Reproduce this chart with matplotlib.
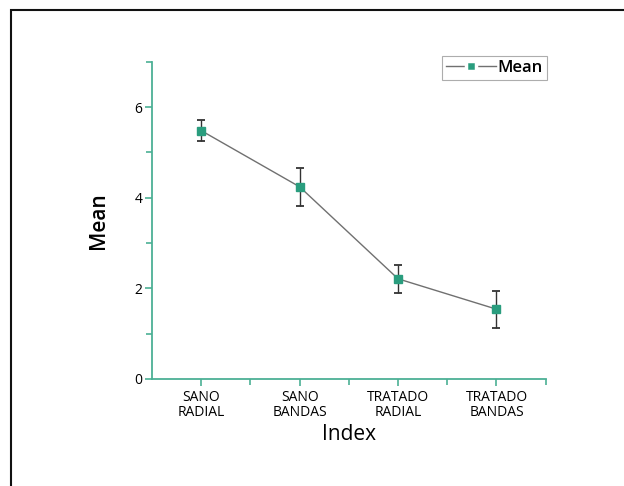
import numpy as np
from matplotlib import pyplot as plt
from matplotlib.patches import Rectangle
from matplotlib.ticker import MultipleLocator

plt.rcParams['font.family'] = ['Open Sans', 'DejaVu Sans']

# data
categories = ['SANO\nRADIAL', 'SANO\nBANDAS', 'TRATADO\nRADIAL', 'TRATADO\nBANDAS']
means = [5.48, 4.24, 2.21, 1.54]
errors = [0.23, 0.42, 0.31, 0.41]

teal_axis = '#4cb095'
teal_mark = '#2a9d7e'

fig = plt.figure(figsize=(6.24, 4.86), dpi=100)
ax = fig.add_axes([0.2436, 0.2202, 0.6309, 0.6528])

x = np.arange(len(categories))
ax.errorbar(x, means, yerr=errors, fmt='none', ecolor='#333333', elinewidth=1.0,
            capsize=3, capthick=1.3, zorder=2)
ax.plot(x, means, color='#707070', lw=1.0, marker='s', markersize=6,
        markerfacecolor=teal_mark, markeredgecolor=teal_mark, label='Mean', zorder=3)

ax.set_xlim(-0.5, 3.5)
ax.set_ylim(0, 7)
ax.set_xticks(x)
ax.set_xticklabels(categories, fontsize=9, linespacing=0.95)
ax.xaxis.set_minor_locator(plt.FixedLocator([0.5, 1.5, 2.5, 3.5]))
ax.yaxis.set_major_locator(MultipleLocator(2))
ax.yaxis.set_minor_locator(MultipleLocator(1))
ax.tick_params(axis='both', which='major', length=5, width=1.2, color=teal_axis,
               labelsize=10, pad=2)
ax.tick_params(axis='both', which='minor', length=4, width=1.2, color=teal_axis)
ax.tick_params(axis='x', which='major', pad=3)

for side in ['top', 'right']:
    ax.spines[side].set_visible(False)
for side in ['left', 'bottom']:
    ax.spines[side].set_color(teal_axis)
    ax.spines[side].set_linewidth(1.3)

ax.set_xlabel('Index', fontsize=15, labelpad=3)
ax.set_ylabel('Mean', fontsize=15, weight='semibold', labelpad=18)

leg = ax.legend(loc='upper right', bbox_to_anchor=(547 / 624, 1 - 56 / 486),
                bbox_transform=fig.transFigure, borderaxespad=0, fancybox=False,
                edgecolor='#999999', handlelength=3.0, handletextpad=0.1,
                borderpad=0.25, prop={'weight': 'semibold', 'size': 12})
leg.get_frame().set_linewidth(0.8)
# little gaps between the line and the marker in the legend
h = leg.legend_handles[0]
h.set_markersize(7.5)
h.set_markeredgecolor('white')
h.set_markeredgewidth(2.5)

# outer frame of the picture
fig.patches.append(Rectangle((11 / 624, -0.1), 1.2, 1 - 10 / 486 + 0.1, transform=fig.transFigure,
                             fill=False, edgecolor='#111111', lw=1.5))

plt.savefig('out.png', dpi=100)
